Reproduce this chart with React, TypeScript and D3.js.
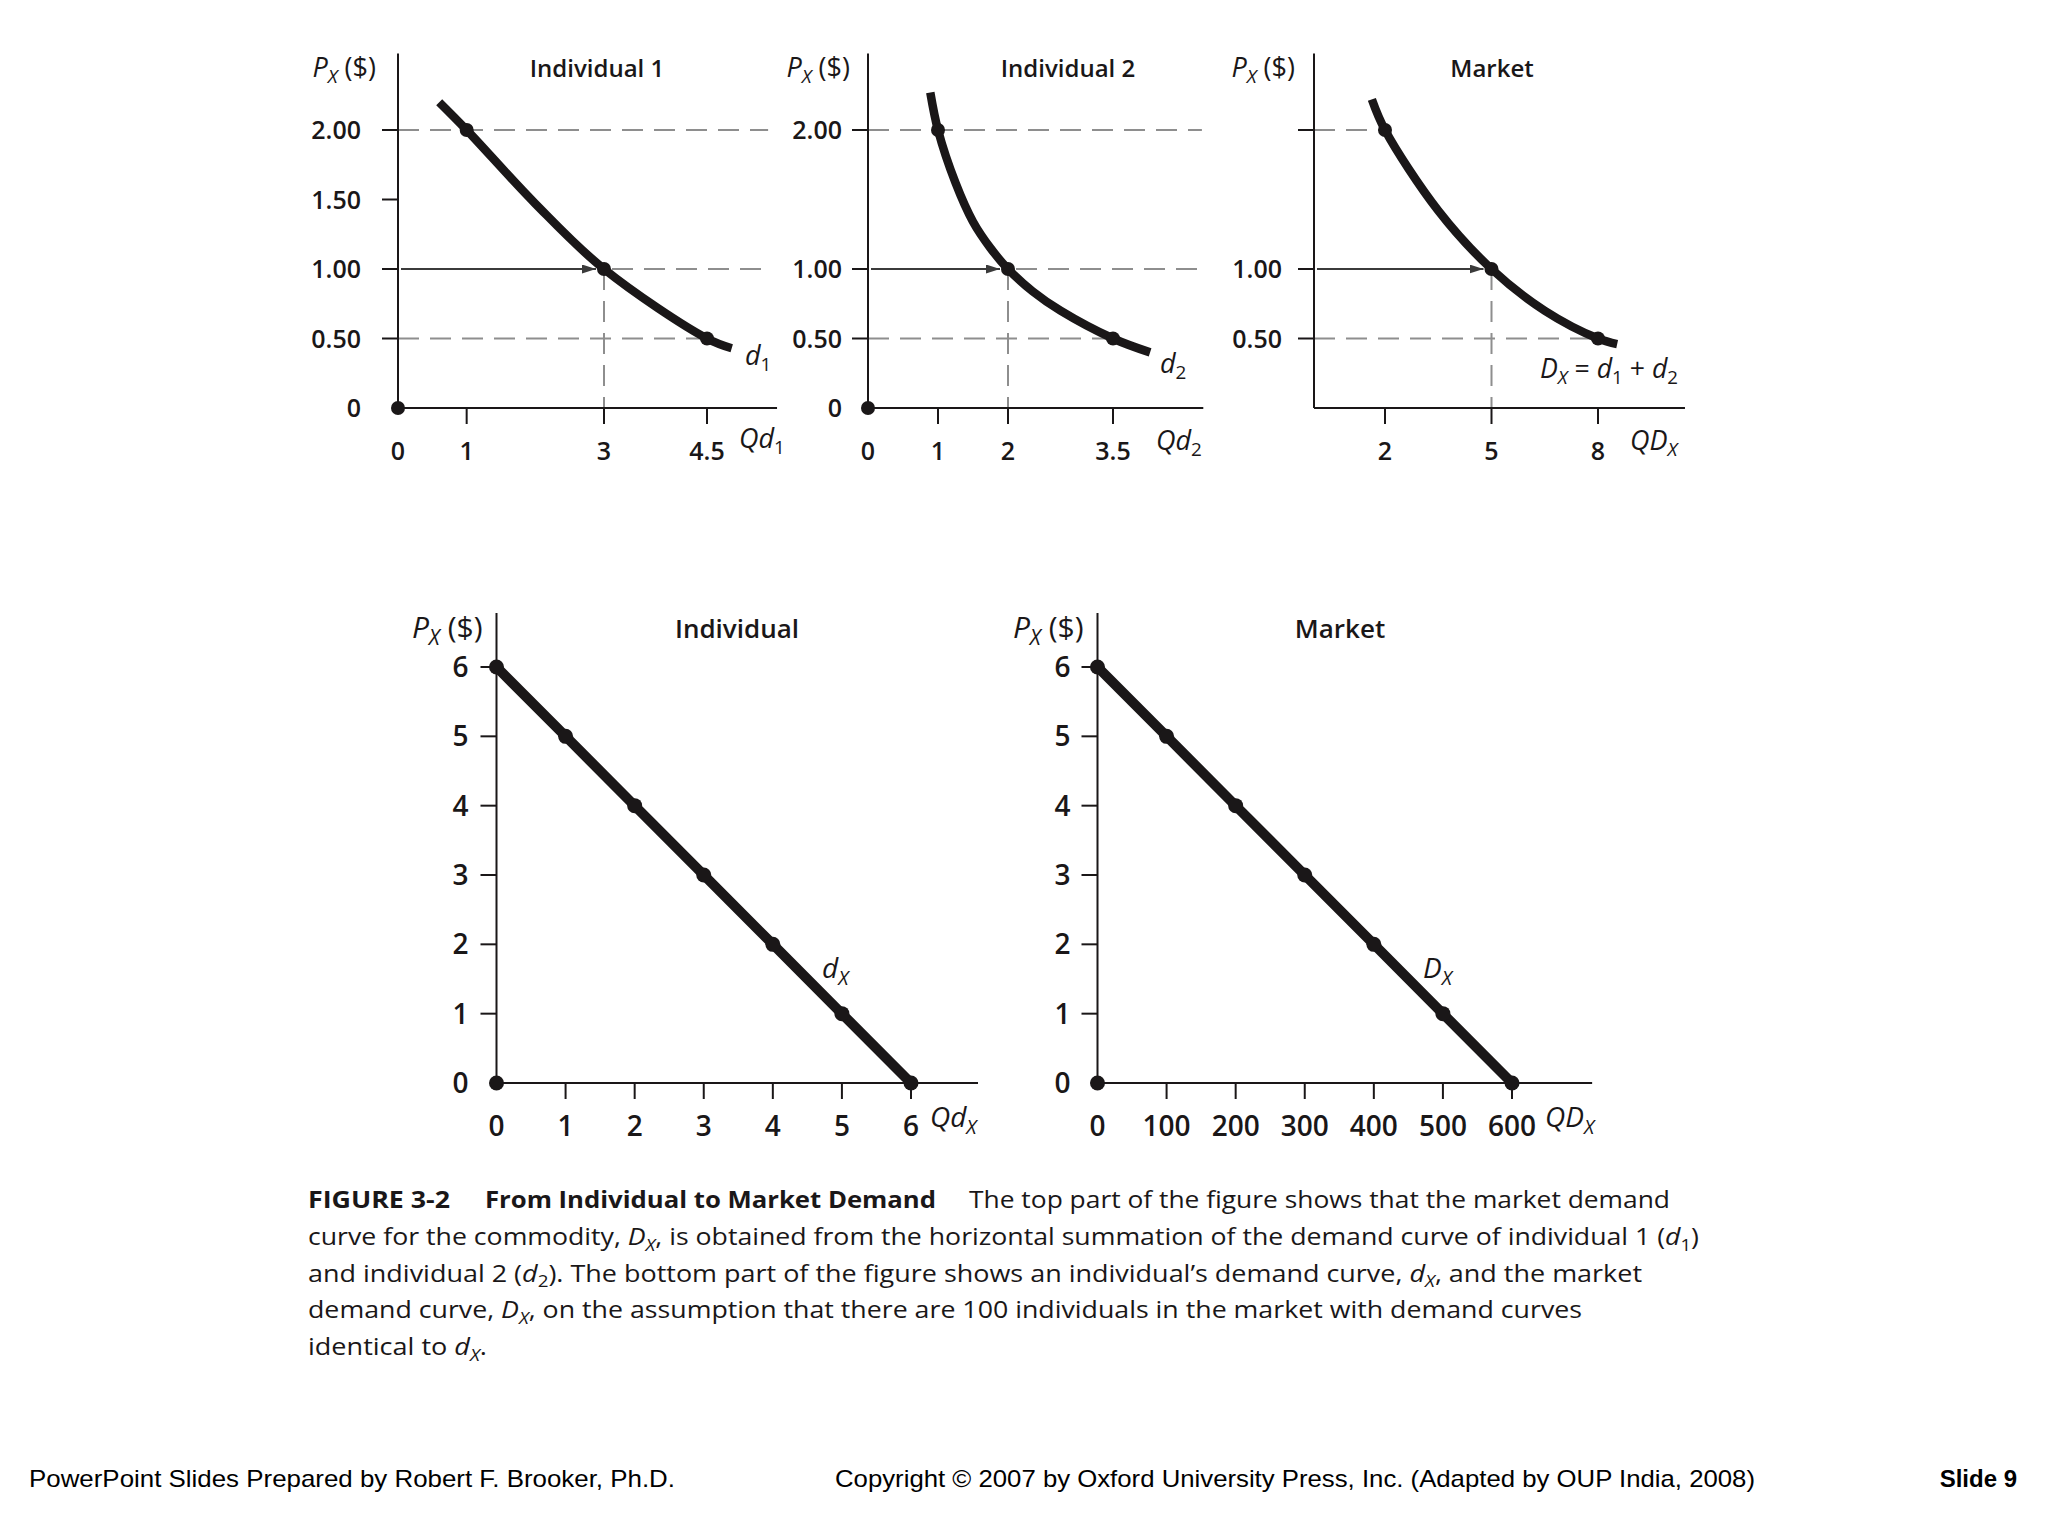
import * as d3 from "d3";
import React from "react";

type Pt = [number, number];
type Seg = { t: string; it?: boolean; sub?: boolean; b?: boolean };

const FONT = "'Open Sans', 'Noto Sans', 'DejaVu Sans', sans-serif";
const INK = "#1a1718";
const GUIDE = "#8e8e8e";

// ---- top row: individual 1 ----
const ind1QTicks = [1, 3, 4.5];
const ind1QLabels = [0, 1, 3, 4.5];
const ind1PTicks = [0.5, 1, 1.5, 2];
const ind1PLabels = [0, 0.5, 1, 1.5, 2];
const ind1Curve: Pt[] = [[0.6, 2.2], [1, 2], [2, 1.47], [3, 1], [4.5, 0.5], [4.86, 0.43]];
const ind1Points: Pt[] = [[1, 2], [3, 1], [4.5, 0.5]];

// ---- top row: individual 2 ----
const ind2QTicks = [1, 2, 3.5];
const ind2QLabels = [0, 1, 2, 3.5];
const ind2PTicks = [0.5, 1, 2];
const ind2PLabels = [0, 0.5, 1, 2];
const ind2Curve: Pt[] = [
  [0.89, 2.27], [1, 2], [1.25, 1.62], [1.5, 1.34], [1.75, 1.15], [2, 1],
  [2.35, 0.84], [2.75, 0.7], [3.5, 0.5], [4.03, 0.4],
];
const ind2Points: Pt[] = [[1, 2], [2, 1], [3.5, 0.5]];

// ---- top row: market ----
const mktQTicks = [2, 5, 8];
const mktQLabels = [2, 5, 8];
const mktPTicks = [0.5, 1, 2];
const mktPLabels = [0.5, 1];
const mktCurve: Pt[] = [[1.63, 2.22], [2, 2], [3.5, 1.42], [5, 1], [6.5, 0.7], [8, 0.5], [8.54, 0.46]];
const mktPoints: Pt[] = [[2, 2], [5, 1], [8, 0.5]];

// ---- bottom row ----
const bottomPrices = [6, 5, 4, 3, 2, 1, 0];
const indQuantities = [0, 1, 2, 3, 4, 5, 6];
const mktQuantities = [0, 100, 200, 300, 400, 500, 600];
const bottomPTicks = [1, 2, 3, 4, 5, 6];
const bottomPLabels = [0, 1, 2, 3, 4, 5, 6];

// ---- caption ----
const captionHead: Seg[] = [{ t: "FIGURE 3-2", b: true }];
const captionTitle: Seg[] = [{ t: "From Individual to Market Demand", b: true }];
const captionLine1: Seg[] = [{ t: "The top part of the figure shows that the market demand" }];
const captionLines: Seg[][] = [
  [
    { t: "curve for the commodity, " }, { t: "D", it: true }, { t: "X", it: true, sub: true },
    { t: ", is obtained from the horizontal summation of the demand curve of individual 1 (" },
    { t: "d", it: true }, { t: "1", sub: true }, { t: ")" },
  ],
  [
    { t: "and individual 2 (" }, { t: "d", it: true }, { t: "2", sub: true },
    { t: "). The bottom part of the figure shows an individual\u2019s demand curve, " },
    { t: "d", it: true }, { t: "X", it: true, sub: true }, { t: ", and the market" },
  ],
  [
    { t: "demand curve, " }, { t: "D", it: true }, { t: "X", it: true, sub: true },
    { t: ", on the assumption that there are 100 individuals in the market with demand curves" },
  ],
  [{ t: "identical to " }, { t: "d", it: true }, { t: "X", it: true, sub: true }, { t: "." }],
];
const captionEnds = [1699, 1642, 1582, 487];

const footerLeft = "PowerPoint Slides Prepared by Robert F. Brooker, Ph.D.";
const footerMid = "Copyright \u00a9 2007 by Oxford University Press, Inc. (Adapted by OUP India, 2008)";
const footerRight = "Slide 9";

const zip = (q: number[], p: number[]): Pt[] => q.map((v, i) => [v, p[i]]);

function Rich(props: { segs: Seg[]; fs: number } & React.SVGProps<SVGTextElement>) {
  const { segs, fs, ...rest } = props;
  let cur = 0;
  return (
    <text fontSize={fs} style={{ whiteSpace: "pre" }} {...rest}>
      {segs.map((s, i) => {
        const target = s.sub ? fs * 0.24 : 0;
        const dy = target - cur;
        cur = target;
        return (
          <tspan
            key={i}
            dy={dy !== 0 ? dy : undefined}
            fontStyle={s.it ? "italic" : "normal"}
            fontWeight={s.b ? 700 : undefined}
            fontSize={s.sub ? fs * 0.7 : undefined}
          >
            {s.t}
          </tspan>
        );
      })}
    </text>
  );
}

const pLabelSegs: Seg[] = [{ t: "P", it: true }, { t: "X", it: true, sub: true }, { t: " ($)" }];

type PanelProps = {
  x: d3.ScaleLinear<number, number>;
  y: d3.ScaleLinear<number, number>;
  qMax: number;
  pMax: number;
  qTicks: number[];
  qLabels: number[];
  pTicks: number[];
  pLabels: number[];
  pFmt: (v: number) => string;
  fs: number;
  tickLen: number;
  yGap: number;
  xLabelDy: number;
  originDot: boolean;
  curve: Pt[];
  smooth: boolean;
  lineW: number;
  dotR: number;
  points: Pt[];
  title: string;
  titleX: number;
  titleY: number;
  titleFs: number;
  pLabelGap: number;
  children?: React.ReactNode;
};

function Panel(p: PanelProps) {
  const { x, y } = p;
  const x0 = x(0);
  const y0 = y(0);
  const line = d3
    .line<Pt>()
    .x((d) => x(d[0]))
    .y((d) => y(d[1]))
    .curve(p.smooth ? d3.curveCatmullRom.alpha(0.5) : d3.curveLinear);
  return (
    <g fontFamily={FONT} fill={INK}>
      <text x={p.titleX} y={p.titleY} fontSize={p.titleFs} fontWeight={600} textAnchor="middle">
        {p.title}
      </text>
      <Rich segs={pLabelSegs} fs={p.fs + 2} fontWeight={500} x={x0 - p.pLabelGap} y={p.titleY} textAnchor="end" />
      {p.children}
      <g stroke={INK} strokeWidth={2}>
        <line x1={x0} x2={x0} y1={y(p.pMax)} y2={y0} />
        <line x1={x0} x2={x(p.qMax)} y1={y0} y2={y0} />
        {p.pTicks.map((v) => (
          <line key={v} x1={x0 - p.tickLen} x2={x0} y1={y(v)} y2={y(v)} />
        ))}
        {p.qTicks.map((v) => (
          <line key={v} x1={x(v)} x2={x(v)} y1={y0} y2={y0 + p.tickLen} />
        ))}
      </g>
      <g fontSize={p.fs} fontWeight={600}>
        {p.pLabels.map((v) => (
          <text key={v} x={x0 - p.yGap} y={y(v) + p.fs * 0.36} textAnchor="end">
            {p.pFmt(v)}
          </text>
        ))}
        {p.qLabels.map((v) => (
          <text key={v} x={x(v)} y={y0 + p.xLabelDy} textAnchor="middle">
            {String(v)}
          </text>
        ))}
      </g>
      <path d={line(p.curve) ?? ""} fill="none" stroke={INK} strokeWidth={p.lineW} strokeLinecap="butt" />
      {p.points.map((d, i) => (
        <circle key={i} cx={x(d[0])} cy={y(d[1])} r={p.dotR} fill={INK} />
      ))}
      {p.originDot && <circle cx={x0} cy={y0} r={p.dotR} fill={INK} />}
    </g>
  );
}

function Guides(props: {
  x: d3.ScaleLinear<number, number>;
  y: d3.ScaleLinear<number, number>;
  points: Pt[];
  guideEnd?: number;
}) {
  const { x, y, points, guideEnd } = props;
  const [hi, mid, lo] = points;
  const x0 = x(0);
  return (
    <g fill="none">
      <g stroke={GUIDE} strokeWidth={2} strokeDasharray="21 11">
        <line x1={x0} x2={x(guideEnd ?? hi[0])} y1={y(hi[1])} y2={y(hi[1])} />
        {guideEnd !== undefined && (
          <line x1={x(mid[0]) + 8} x2={x(guideEnd)} y1={y(mid[1])} y2={y(mid[1])} />
        )}
        <line x1={x0} x2={x(lo[0])} y1={y(lo[1])} y2={y(lo[1])} />
        <line x1={x(mid[0])} x2={x(mid[0])} y1={y(mid[1])} y2={y(0)} />
      </g>
      <line
        x1={x0 + 3}
        x2={x(mid[0]) - 8}
        y1={y(mid[1])}
        y2={y(mid[1])}
        stroke="#3b3b3b"
        strokeWidth={2}
        markerEnd="url(#arrow)"
      />
    </g>
  );
}

export default function App() {
  // top row scales
  const yTop = d3.scaleLinear().domain([0, 2]).range([408, 130]);
  const x1 = d3.scaleLinear().domain([0, 4.5]).range([398, 707]);
  const x2 = d3.scaleLinear().domain([0, 3.5]).range([868, 1113]);
  const x3 = d3.scaleLinear().domain([0, 8]).range([1314, 1598]);
  // bottom row scales
  const yBot = d3.scaleLinear().domain([0, 6]).range([1083, 667]);
  const xb1 = d3.scaleLinear().domain([0, 6]).range([496.5, 911]);
  const xb2 = d3.scaleLinear().domain([0, 600]).range([1097.5, 1512]);

  const fmtTop = (v: number) => (v === 0 ? "0" : d3.format(".2f")(v));
  const fmtBot = (v: number) => String(v);

  const topCommon = {
    y: yTop,
    pMax: 2.55,
    fs: 25,
    tickLen: 16,
    xLabelDy: 52,
    smooth: true,
    lineW: 8.5,
    dotR: 7,
    titleY: 77,
    titleFs: 24,
    pFmt: fmtTop,
  };
  const botCommon = {
    y: yBot,
    pMax: 6.78,
    fs: 28,
    tickLen: 16,
    xLabelDy: 53,
    smooth: false,
    lineW: 10,
    dotR: 7.5,
    titleY: 638,
    titleFs: 26,
    pFmt: fmtBot,
    originDot: true,
    pTicks: bottomPTicks,
    pLabels: bottomPLabels,
    pLabelGap: 14,
  };

  const indLine = zip(indQuantities, bottomPrices);
  const mktLine = zip(mktQuantities, bottomPrices);

  const capY = (i: number) => 1208 + 36.8 * i;

  return (
    <svg
      width={2048}
      height={1536}
      viewBox="0 0 2048 1536"
      style={{ position: "absolute", left: 0, top: 0, background: "#fff" }}
    >
      <defs>
        <marker
          id="arrow"
          viewBox="0 0 10 10"
          refX={10}
          refY={5}
          markerWidth={14}
          markerHeight={9}
          markerUnits="userSpaceOnUse"
          preserveAspectRatio="none"
          orient="auto"
        >
          <path d="M0,0 L10,5 L0,10 z" fill="#3b3b3b" />
        </marker>
      </defs>
      <rect width={2048} height={1536} fill="#fff" />

      {/* Individual 1 */}
      <Panel
        {...topCommon}
        x={x1}
        qMax={5.52}
        qTicks={ind1QTicks}
        qLabels={ind1QLabels}
        pTicks={ind1PTicks}
        pLabels={ind1PLabels}
        yGap={37}
        pLabelGap={22}
        originDot={true}
        curve={ind1Curve}
        points={ind1Points}
        title="Individual 1"
        titleX={597}
      >
        <Guides x={x1} y={yTop} points={ind1Points} guideEnd={5.39} />
      </Panel>
      <g fontFamily={FONT} fill={INK} fontWeight={500}>
        <Rich segs={[{ t: "d", it: true }, { t: "1", sub: true }]} fs={27} x={745} y={365} />
        <Rich segs={[{ t: "Qd", it: true }, { t: "1", sub: true }]} fs={27} x={739} y={448} />
      </g>

      {/* Individual 2 */}
      <Panel
        {...topCommon}
        x={x2}
        qMax={4.79}
        qTicks={ind2QTicks}
        qLabels={ind2QLabels}
        pTicks={ind2PTicks}
        pLabels={ind2PLabels}
        yGap={26}
        pLabelGap={18}
        originDot={true}
        curve={ind2Curve}
        points={ind2Points}
        title="Individual 2"
        titleX={1068}
      >
        <Guides x={x2} y={yTop} points={ind2Points} guideEnd={4.77} />
      </Panel>
      <g fontFamily={FONT} fill={INK} fontWeight={500}>
        <Rich segs={[{ t: "d", it: true }, { t: "2", sub: true }]} fs={27} x={1160} y={373} />
        <Rich segs={[{ t: "Qd", it: true }, { t: "2", sub: true }]} fs={27} x={1156} y={450} />
      </g>

      {/* Market (top) */}
      <Panel
        {...topCommon}
        x={x3}
        qMax={10.45}
        qTicks={mktQTicks}
        qLabels={mktQLabels}
        pTicks={mktPTicks}
        pLabels={mktPLabels}
        yGap={32}
        pLabelGap={19}
        originDot={false}
        curve={mktCurve}
        points={mktPoints}
        title="Market"
        titleX={1492}
      >
        <Guides x={x3} y={yTop} points={mktPoints} />
      </Panel>
      <g fontFamily={FONT} fill={INK} fontWeight={500}>
        <Rich
          segs={[
            { t: "D", it: true },
            { t: "X", it: true, sub: true },
            { t: " = " },
            { t: "d", it: true },
            { t: "1", sub: true },
            { t: " + " },
            { t: "d", it: true },
            { t: "2", sub: true },
          ]}
          fs={27}
          x={1540}
          y={378}
          textLength={138}
          lengthAdjust="spacingAndGlyphs"
        />
        <Rich segs={[{ t: "QD", it: true }, { t: "X", it: true, sub: true }]} fs={27} x={1630} y={450} />
      </g>

      {/* Individual (bottom) */}
      <Panel
        {...botCommon}
        x={xb1}
        qMax={6.97}
        qTicks={indQuantities.slice(1)}
        qLabels={indQuantities}
        yGap={28}
        curve={indLine}
        points={indLine}
        title="Individual"
        titleX={737}
      />
      <g fontFamily={FONT} fill={INK} fontWeight={500}>
        <Rich segs={[{ t: "d", it: true }, { t: "X", it: true, sub: true }]} fs={28} x={822} y={978} />
        <Rich segs={[{ t: "Qd", it: true }, { t: "X", it: true, sub: true }]} fs={28} x={930} y={1127} />
      </g>

      {/* Market (bottom) */}
      <Panel
        {...botCommon}
        x={xb2}
        qMax={716}
        qTicks={mktQuantities.slice(1)}
        qLabels={mktQuantities}
        yGap={27}
        curve={mktLine}
        points={mktLine}
        title="Market"
        titleX={1340}
      />
      <g fontFamily={FONT} fill={INK} fontWeight={500}>
        <Rich segs={[{ t: "D", it: true }, { t: "X", it: true, sub: true }]} fs={28} x={1423} y={978} />
        <Rich segs={[{ t: "QD", it: true }, { t: "X", it: true, sub: true }]} fs={28} x={1545} y={1127} />
      </g>

      {/* caption */}
      <g fontFamily={FONT} fill={INK}>
        <Rich segs={captionHead} fs={24} x={308} y={capY(0)} textLength={142} lengthAdjust="spacingAndGlyphs" />
        <Rich segs={captionTitle} fs={24} x={485} y={capY(0)} textLength={451} lengthAdjust="spacingAndGlyphs" />
        <Rich segs={captionLine1} fs={24} x={969} y={capY(0)} textLength={701} lengthAdjust="spacingAndGlyphs" />
        {captionLines.map((segs, i) => (
          <Rich
            key={i}
            segs={segs}
            fs={24}
            x={308}
            y={capY(i + 1)}
            textLength={captionEnds[i] - 308}
            lengthAdjust="spacingAndGlyphs"
          />
        ))}
      </g>

      {/* footer */}
      <g fontFamily="'Liberation Sans', Arial, sans-serif" fontSize={24} fill="#000">
        <text x={29} y={1487} textLength={646} lengthAdjust="spacingAndGlyphs">
          {footerLeft}
        </text>
        <text x={835} y={1487} textLength={920} lengthAdjust="spacingAndGlyphs">
          {footerMid}
        </text>
        <text x={2017} y={1487} textAnchor="end" fontWeight={700}>
          {footerRight}
        </text>
      </g>
    </svg>
  );
}
